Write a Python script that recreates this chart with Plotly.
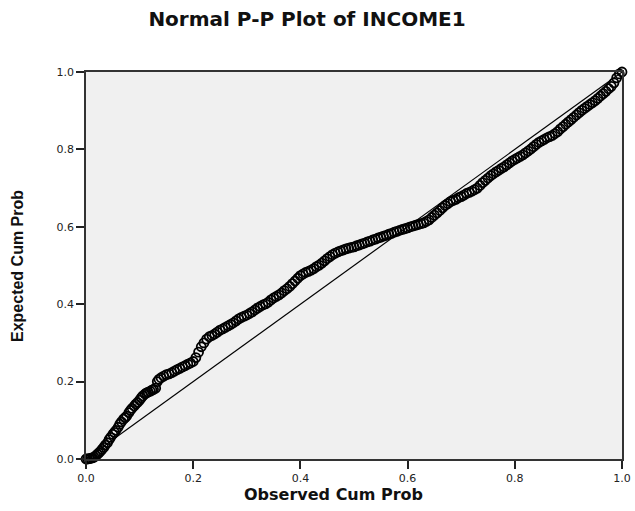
import plotly.graph_objects as go

# Observed cumulative probability (x)
observed = [0.000, 0.003, 0.006, 0.009, 0.012, 0.015, 0.018, 0.021, 0.024, 0.027,
            0.030, 0.033, 0.036, 0.040, 0.043, 0.046, 0.050, 0.053, 0.056, 0.060,
            0.063, 0.066, 0.070, 0.073, 0.076, 0.080, 0.083, 0.086, 0.090, 0.093,
            0.096, 0.100, 0.103, 0.106, 0.110, 0.113, 0.116, 0.120, 0.123, 0.126,
            0.130, 0.133, 0.136, 0.140, 0.145, 0.150, 0.155, 0.160, 0.165, 0.170,
            0.175, 0.180, 0.185, 0.190, 0.195, 0.200, 0.205, 0.210, 0.215, 0.220,
            0.225, 0.230, 0.235, 0.240, 0.245, 0.250, 0.255, 0.260, 0.265, 0.270,
            0.275, 0.280, 0.285, 0.290, 0.295, 0.300, 0.305, 0.310, 0.315, 0.320,
            0.325, 0.330, 0.335, 0.340, 0.345, 0.350, 0.355, 0.360, 0.365, 0.370,
            0.375, 0.380, 0.385, 0.390, 0.395, 0.400, 0.405, 0.410, 0.415, 0.420,
            0.425, 0.430, 0.435, 0.440, 0.445, 0.450, 0.455, 0.460, 0.465, 0.470,
            0.475, 0.480, 0.485, 0.490, 0.495, 0.500, 0.505, 0.510, 0.515, 0.520,
            0.525, 0.530, 0.535, 0.540, 0.545, 0.550, 0.555, 0.560, 0.565, 0.570,
            0.575, 0.580, 0.585, 0.590, 0.595, 0.600, 0.605, 0.610, 0.615, 0.620,
            0.625, 0.630, 0.635, 0.640, 0.645, 0.650, 0.655, 0.660, 0.665, 0.670,
            0.675, 0.680, 0.685, 0.690, 0.695, 0.700, 0.705, 0.710, 0.715, 0.720,
            0.725, 0.730, 0.735, 0.740, 0.745, 0.750, 0.755, 0.760, 0.765, 0.770,
            0.775, 0.780, 0.785, 0.790, 0.795, 0.800, 0.805, 0.810, 0.815, 0.820,
            0.825, 0.830, 0.835, 0.840, 0.845, 0.850, 0.855, 0.860, 0.865, 0.870,
            0.875, 0.880, 0.885, 0.890, 0.895, 0.900, 0.905, 0.910, 0.915, 0.920,
            0.925, 0.930, 0.935, 0.940, 0.945, 0.950, 0.955, 0.960, 0.965, 0.970,
            0.975, 0.980, 0.985, 0.990, 0.995, 1.000]

# Expected cumulative probability (y)
expected = [0.000, 0.000, 0.001, 0.002, 0.003, 0.005, 0.008, 0.012, 0.016, 0.020,
            0.025, 0.030, 0.036, 0.042, 0.050, 0.056, 0.064, 0.069, 0.074, 0.082,
            0.090, 0.096, 0.103, 0.107, 0.111, 0.120, 0.126, 0.131, 0.137, 0.142,
            0.146, 0.152, 0.158, 0.163, 0.168, 0.171, 0.173, 0.175, 0.178, 0.180,
            0.183, 0.200, 0.206, 0.210, 0.214, 0.218, 0.220, 0.223, 0.227, 0.231,
            0.234, 0.238, 0.241, 0.245, 0.248, 0.252, 0.262, 0.276, 0.290, 0.300,
            0.310, 0.316, 0.319, 0.323, 0.328, 0.333, 0.336, 0.340, 0.344, 0.348,
            0.352, 0.357, 0.362, 0.366, 0.369, 0.372, 0.376, 0.380, 0.385, 0.390,
            0.394, 0.398, 0.401, 0.405, 0.411, 0.416, 0.420, 0.424, 0.429, 0.435,
            0.440, 0.446, 0.453, 0.460, 0.467, 0.474, 0.478, 0.482, 0.485, 0.488,
            0.492, 0.497, 0.501, 0.506, 0.512, 0.518, 0.523, 0.528, 0.532, 0.535,
            0.538, 0.540, 0.543, 0.545, 0.547, 0.548, 0.551, 0.553, 0.556, 0.558,
            0.561, 0.563, 0.566, 0.568, 0.571, 0.573, 0.576, 0.578, 0.581, 0.583,
            0.586, 0.588, 0.591, 0.593, 0.595, 0.597, 0.600, 0.602, 0.604, 0.606,
            0.608, 0.610, 0.614, 0.618, 0.624, 0.630, 0.636, 0.642, 0.649, 0.655,
            0.660, 0.665, 0.668, 0.671, 0.675, 0.678, 0.682, 0.686, 0.689, 0.692,
            0.696, 0.700, 0.707, 0.714, 0.720, 0.726, 0.732, 0.737, 0.742, 0.746,
            0.751, 0.755, 0.760, 0.765, 0.770, 0.774, 0.778, 0.782, 0.786, 0.791,
            0.796, 0.801, 0.807, 0.813, 0.818, 0.822, 0.826, 0.830, 0.833, 0.836,
            0.841, 0.846, 0.853, 0.859, 0.865, 0.871, 0.877, 0.883, 0.889, 0.895,
            0.901, 0.906, 0.911, 0.916, 0.921, 0.926, 0.932, 0.938, 0.944, 0.950,
            0.957, 0.963, 0.972, 0.985, 0.995, 1.000]

# Reference diagonal
diag_x = [0.0, 1.0]
diag_y = [0.0, 1.0]

tick_vals = [0.0, 0.2, 0.4, 0.6, 0.8, 1.0]
tick_text = ["0.0", "0.2", "0.4", "0.6", "0.8", "1.0"]

fig = go.Figure()
fig.add_trace(go.Scatter(x=diag_x, y=diag_y, mode="lines",
                         line=dict(color="black", width=1.2),
                         hoverinfo="skip", showlegend=False))
fig.add_trace(go.Scatter(x=observed, y=expected, mode="markers",
                         marker=dict(symbol="circle-open", size=9, color="black",
                                     line=dict(color="black", width=1.8)),
                         cliponaxis=False, showlegend=False))

axis_common = dict(range=[0, 1], tickvals=tick_vals, ticktext=tick_text,
                   ticks="outside", ticklen=8, tickwidth=1.5, tickcolor="#222",
                   showline=True, linecolor="#333", linewidth=1.5, mirror=True,
                   showgrid=False, zeroline=False, automargin=False,
                   tickfont=dict(family="DejaVu Sans", size=11, color="#222"))

fig.update_layout(
    width=635, height=511,
    margin=dict(l=86, r=13, t=72, b=52, autoexpand=False),
    paper_bgcolor="white",
    plot_bgcolor="#f0f0f0",
    title=dict(text="<b>Normal P-P Plot of INCOME1</b>", x=307 / 635, xanchor="center",
               xref="container", yref="container", y=1 - 19 / 511, yanchor="middle",
               automargin=False,
               font=dict(family="DejaVu Sans", size=20, color="#111")),
    xaxis=axis_common,
    yaxis=axis_common,
    annotations=[
        dict(text="<b>Observed Cum Prob</b>", xref="paper", yref="paper",
             x=(333 - 86) / 536, y=-(494 - 459) / 387, xanchor="center", yanchor="middle",
             showarrow=False, font=dict(family="DejaVu Sans", size=16, color="#111")),
        dict(text="<b>Expected Cum Prob</b>", xref="paper", yref="paper",
             x=(17 - 86) / 536, y=(459 - 266) / 387, xanchor="center", yanchor="middle",
             textangle=-90, showarrow=False,
             font=dict(family="Liberation Sans", size=16, color="#111")),
    ],
)

fig.write_html("out.html", config={"displayModeBar": False})

# remove the browser's default page margin so the figure sits at the window origin
with open("out.html", "r", encoding="utf-8") as f:
    html = f.read()
html = html.replace("<head>", "<head><style>html,body{margin:0;padding:0;overflow:hidden;}</style>", 1)
with open("out.html", "w", encoding="utf-8") as f:
    f.write(html)
